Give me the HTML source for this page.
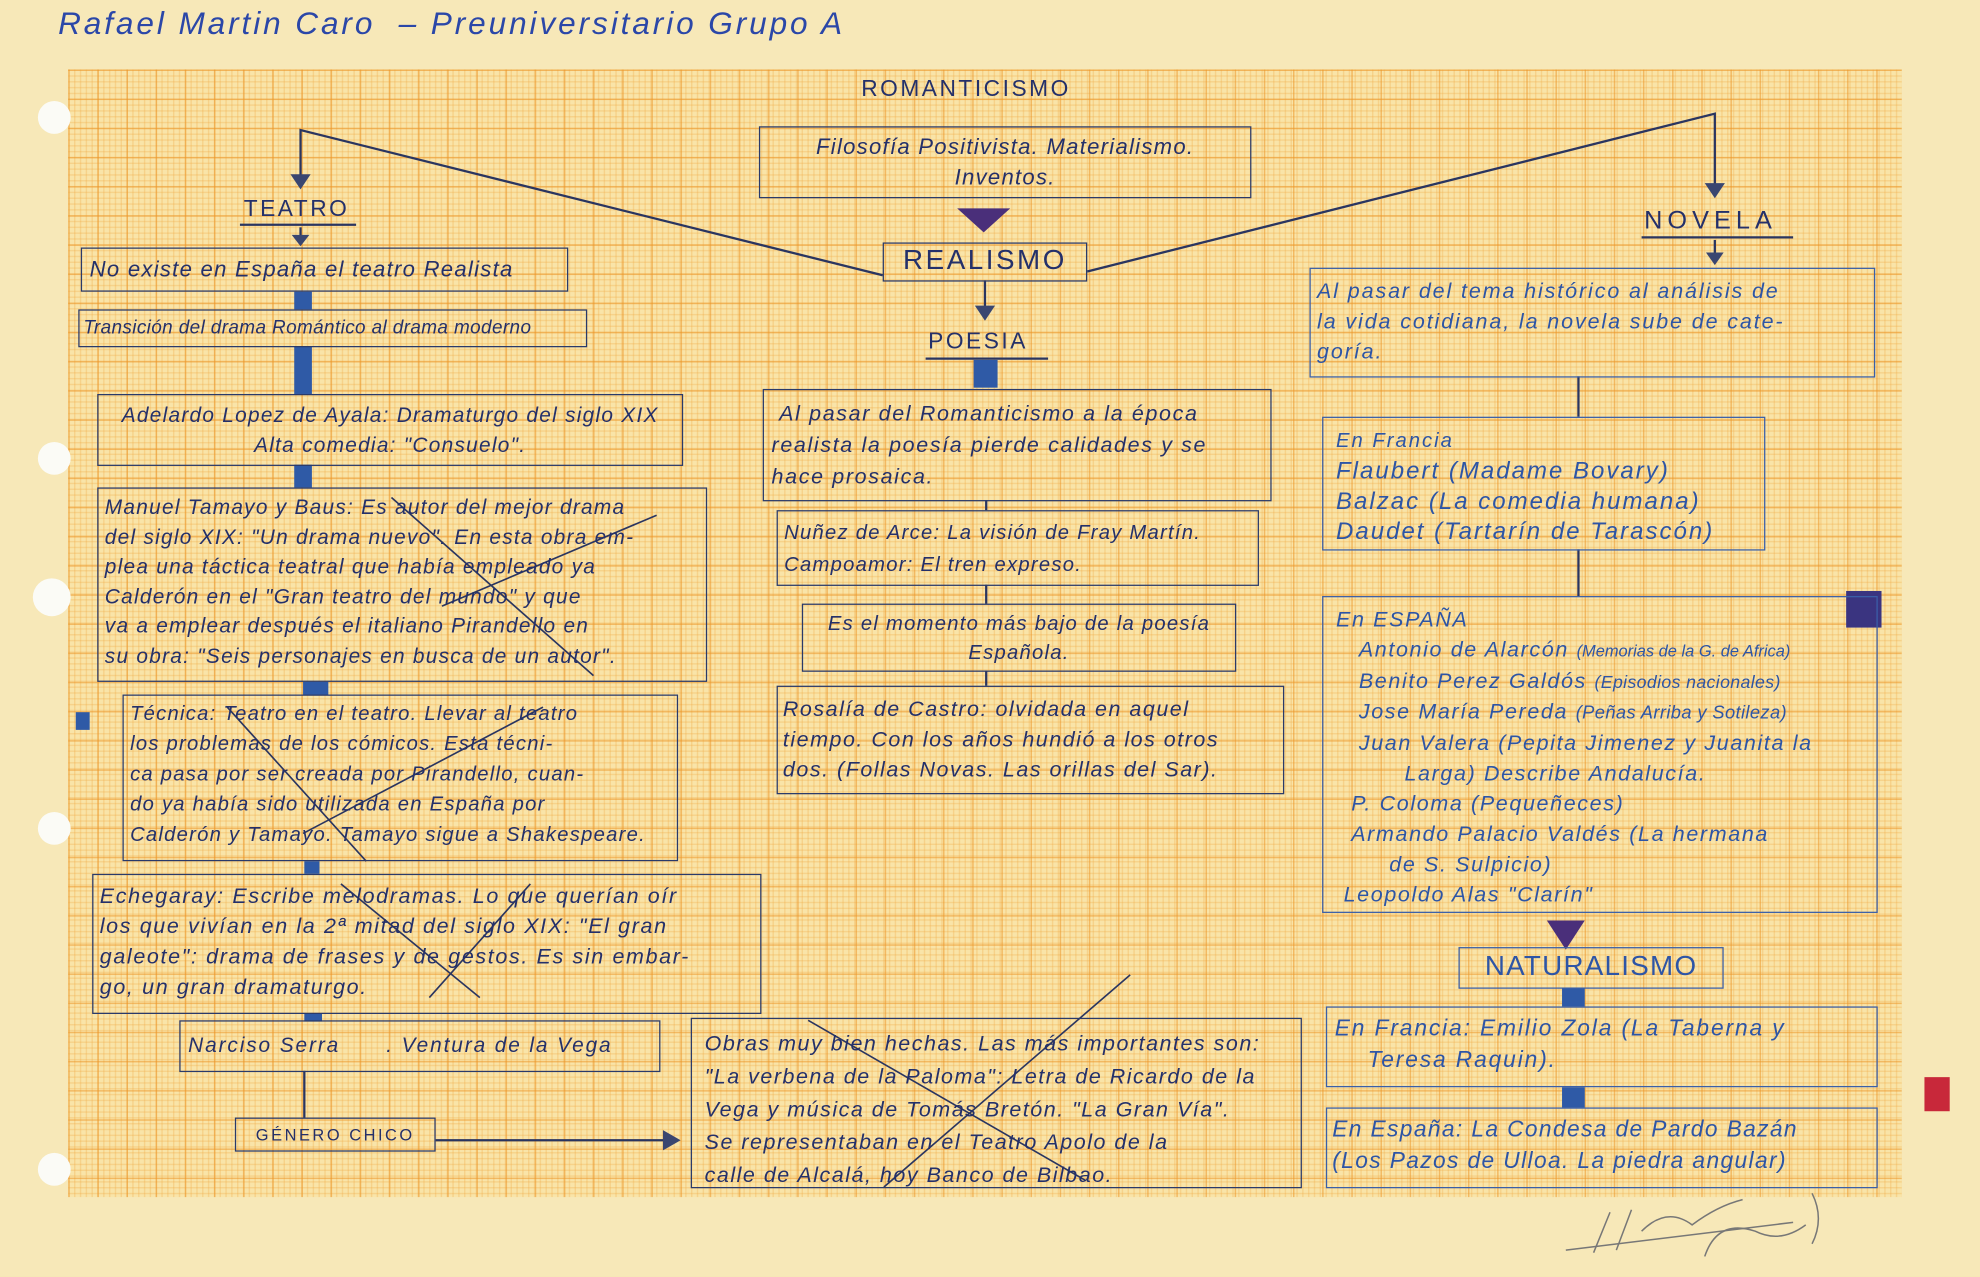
<!DOCTYPE html>
<html><head><meta charset="utf-8"><style>
html,body{margin:0;padding:0;}
body{width:1980px;height:1277px;overflow:hidden;background:#f6e6b4;}
#s{position:absolute;left:0;top:0;width:1568px;height:1011px;transform:scale(1.26276);transform-origin:0 0;background:#f7e8b8;font-family:"Liberation Sans",sans-serif;font-style:italic;color:#24306a;}
#g{position:absolute;left:54px;top:55px;width:1452px;height:893px;background-color:#f9e4a8;
background-image:
linear-gradient(to right,rgba(236,150,40,.55) 1px,transparent 1px),
linear-gradient(to bottom,rgba(236,150,40,.55) 1px,transparent 1px),
linear-gradient(to right,rgba(240,170,70,.3) 1px,transparent 1px),
linear-gradient(to bottom,rgba(240,170,70,.3) 1px,transparent 1px);
background-size:23.1px 23.1px,23.1px 23.1px,4.62px 4.62px,4.62px 4.62px;}
.b{position:absolute;border:1.6px solid #2a3a6a;box-sizing:border-box;font-size:16.5px;line-height:22px;padding:2px 6px;white-space:nowrap;letter-spacing:1px;}
.bl{border-color:#3a5fa8;color:#2d55a6;}
.t{position:absolute;font-size:18px;letter-spacing:2px;font-style:normal;}
.hole{position:absolute;width:26px;height:26px;border-radius:50%;background:#fbfbf6;}
</style></head><body><div id="s">
<div id="g"></div>
<div class="hole" style="left:30px;top:80px"></div>
<div class="hole" style="left:30px;top:350px"></div>
<div class="hole" style="left:26px;top:458px;width:30px;height:30px"></div>
<div class="hole" style="left:30px;top:643px"></div>
<div class="hole" style="left:30px;top:913px"></div>
<div style="position:absolute;left:46px;top:5px;font-size:25px;color:#2b47a8;letter-spacing:2.3px">Rafael Martin Caro &nbsp;– Preuniversitario Grupo A</div>

<svg style="position:absolute;left:0;top:0" width="1568" height="1011">
<g stroke="#2a3560" stroke-width="1.8" fill="none">
<polyline points="699,218 238,103 238,140"/>
<polyline points="861,215 1358,90 1358,148"/>
<line x1="238" y1="180" x2="238" y2="188"/>
<line x1="780" y1="222" x2="780" y2="245"/>
<line x1="1358" y1="190" x2="1358" y2="202"/>
<line x1="241" y1="848" x2="241" y2="885"/>
<line x1="345" y1="903" x2="527" y2="903"/>
<line x1="781" y1="396" x2="781" y2="404"/>
<line x1="781" y1="463" x2="781" y2="478"/>
<line x1="781" y1="531" x2="781" y2="543"/>
<line x1="1250" y1="298" x2="1250" y2="330"/>
<line x1="1250" y1="435" x2="1250" y2="472"/>
<line x1="190" y1="178" x2="282" y2="178"/>
<line x1="733" y1="284" x2="830" y2="284"/>
<line x1="1300" y1="188" x2="1420" y2="188"/>
</g>
<g fill="#3a4670">
<polygon points="230,138 246,138 238,150"/>
<polygon points="1350,145 1366,145 1358,157"/>
<polygon points="231,186 245,186 238,195"/>
<polygon points="772,242 788,242 780,254"/>
<polygon points="1351,200 1365,200 1358,210"/>
<polygon points="525,895 525,911 539,903"/>
</g>
<polygon points="758,165 800,165 779,184" fill="#4a2f7a"/>
<polygon points="1225,729 1255,729 1240,752" fill="#4a2f7a"/>
<g fill="#2f5aa6">
<rect x="233" y="231" width="14" height="14"/><rect x="233" y="274" width="14" height="38"/>
<rect x="233" y="368" width="14" height="18"/><rect x="240" y="540" width="20" height="10"/>
<rect x="241" y="682" width="12" height="10"/><rect x="241" y="803" width="14" height="6"/>
<rect x="771" y="285" width="19" height="22"/>
<rect x="1237" y="782" width="18" height="15"/><rect x="1237" y="861" width="18" height="16"/>
<rect x="60" y="564" width="11" height="14"/>
</g>
<rect x="1462" y="468" width="28" height="29" fill="#3a3480"/>
<rect x="1524" y="853" width="20" height="27" fill="#c8283a"/>
<g stroke="#2a3560" stroke-width="1.3" fill="none">
<path d="M310 394 L470 535"/><path d="M350 480 L520 408"/>
<path d="M180 560 L290 682"/><path d="M430 560 L240 660"/>
<path d="M270 700 L380 790"/><path d="M420 700 L340 790"/>
<path d="M640 808 L860 935"/><path d="M895 772 L700 940"/>
</g>
<g stroke="#777" stroke-width="1.2" fill="none">
<path d="M1240 990 L1420 968"/><path d="M1262 992 L1275 960 M1280 990 L1292 958"/>
<path d="M1300 975 q20 -20 40 -5 q20 -15 40 -20 M1350 995 q10 -30 40 -20 q20 10 40 -5 M1435 945 q10 20 0 40"/>
</g>
</svg>

<div class="t" style="left:682px;top:60px">ROMANTICISMO</div>
<div class="b" style="left:601px;top:100px;width:390px;height:57px;text-align:center;font-size:17.5px;line-height:24px;padding-top:3px">Filosofía Positivista. Materialismo.<br>Inventos.</div>
<div class="b" style="left:699px;top:192px;width:162px;height:31px;text-align:center;font-style:normal;font-size:22px;letter-spacing:2px;line-height:26px;padding:0">REALISMO</div>
<div class="t" style="left:193px;top:155px">TEATRO</div>
<div class="t" style="left:735px;top:260px">POESIA</div>
<div class="t" style="left:1302px;top:164px;font-size:20px;letter-spacing:4px">NOVELA</div>

<div class="b" style="left:64px;top:196px;width:386px;height:35px;line-height:28px;font-size:17.5px">No existe en España el teatro Realista</div>
<div class="b" style="left:62px;top:245px;width:403px;height:30px;font-size:15px;line-height:24px;padding:2px 3px;letter-spacing:0.3px">Transición del drama Romántico al drama moderno</div>
<div class="b" style="left:77px;top:312px;width:464px;height:57px;font-size:16.5px;line-height:24px;text-align:center;padding-top:4px">Adelardo Lopez de Ayala: Dramaturgo del siglo XIX<br>Alta comedia: "Consuelo".</div>
<div class="b" style="left:77px;top:386px;width:483px;height:154px;font-size:16.5px;line-height:23.5px;padding:4px 5px">Manuel Tamayo y Baus: Es autor del mejor drama<br>del siglo XIX: "Un drama nuevo". En esta obra em-<br>plea una táctica teatral que había empleado ya<br>Calderón en el "Gran teatro del mundo" y que<br>va a emplear después el italiano Pirandello en<br>su obra: "Seis personajes en busca de un autor".</div>
<div class="b" style="left:97px;top:550px;width:440px;height:132px;font-size:16px;line-height:24px;padding:3px 5px">Técnica: Teatro en el teatro. Llevar al teatro<br>los problemas de los cómicos. Esta técni-<br>ca pasa por ser creada por Pirandello, cuan-<br>do ya había sido utilizada en España por<br>Calderón y Tamayo. Tamayo sigue a Shakespeare.</div>
<div class="b" style="left:73px;top:692px;width:530px;height:111px;font-size:17px;line-height:24px;padding:5px 5px;letter-spacing:1.3px">Echegaray: Escribe melodramas. Lo que querían oír<br>los que vivían en la 2ª mitad del siglo XIX: "El gran<br>galeote": drama de frases y de gestos. Es sin embar-<br>go, un gran dramaturgo.</div>
<div class="b" style="left:142px;top:808px;width:381px;height:41px;font-size:16.5px;line-height:34px;letter-spacing:1.5px">Narciso Serra &nbsp;&nbsp;&nbsp;&nbsp;&nbsp;. Ventura de la Vega</div>
<div class="b" style="left:186px;top:885px;width:159px;height:27px;font-style:normal;font-size:13px;letter-spacing:2px;line-height:21px;text-align:center">GÉNERO CHICO</div>
<div class="b" style="left:547px;top:806px;width:484px;height:135px;font-size:17px;line-height:26px;padding:7px 10px;letter-spacing:1.2px">Obras muy bien hechas. Las más importantes son:<br>"La verbena de la Paloma": Letra de Ricardo de la<br>Vega y música de Tomás Bretón. "La Gran Vía".<br>Se representaban en el Teatro Apolo de la<br>calle de Alcalá, hoy Banco de Bilbao.</div>

<div class="b" style="left:604px;top:308px;width:403px;height:89px;font-size:17px;line-height:25px;padding:6px 6px;letter-spacing:1.3px">&nbsp;Al pasar del Romanticismo a la época<br>realista la poesía pierde calidades y se<br>hace prosaica.</div>
<div class="b" style="left:615px;top:404px;width:382px;height:60px;font-size:16px;line-height:25px;padding:5px 5px">Nuñez de Arce: La visión de Fray Martín.<br>Campoamor: El tren expreso.</div>
<div class="b" style="left:635px;top:478px;width:344px;height:54px;font-size:16px;line-height:23px;text-align:center;padding-top:4px">Es el momento más bajo de la poesía<br>Española.</div>
<div class="b" style="left:615px;top:543px;width:402px;height:86px;font-size:17px;line-height:24px;padding:6px 4px;letter-spacing:1.2px">Rosalía de Castro: olvidada en aquel<br>tiempo. Con los años hundió a los otros<br>dos. (Follas Novas. Las orillas del Sar).</div>

<div class="b bl" style="left:1037px;top:212px;width:448px;height:87px;font-size:17px;line-height:24px;padding:6px 5px;letter-spacing:1.5px">Al pasar del tema histórico al análisis de<br>la vida cotidiana, la novela sube de cate-<br>goría.</div>
<div class="b bl" style="left:1047px;top:330px;width:351px;height:106px;font-size:19px;line-height:24px;padding:6px 10px;letter-spacing:1.6px"><span style="font-size:16px">En Francia</span><br>Flaubert (Madame Bovary)<br>Balzac (La comedia humana)<br>Daudet (Tartarín de Tarascón)</div>
<div class="b bl" style="left:1047px;top:472px;width:440px;height:251px;font-size:17px;line-height:24px;padding:6px 10px;letter-spacing:1.3px">En ESPAÑA<br>&nbsp;&nbsp;&nbsp;Antonio de Alarcón <span style="font-size:13px;letter-spacing:0">(Memorias de la G. de Africa)</span><br>&nbsp;&nbsp;&nbsp;Benito Perez Galdós <span style="font-size:14px;letter-spacing:0.3px">(Episodios nacionales)</span><br>&nbsp;&nbsp;&nbsp;Jose María Pereda <span style="font-size:14.5px;letter-spacing:0.3px">(Peñas Arriba y Sotileza)</span><br>&nbsp;&nbsp;&nbsp;Juan Valera (Pepita Jimenez y Juanita la<br>&nbsp;&nbsp;&nbsp;&nbsp;&nbsp;&nbsp;&nbsp;&nbsp;&nbsp;Larga) Describe Andalucía.<br>&nbsp;&nbsp;P. Coloma (Pequeñeces)<br>&nbsp;&nbsp;Armando Palacio Valdés (La hermana<br>&nbsp;&nbsp;&nbsp;&nbsp;&nbsp;&nbsp;&nbsp;de S. Sulpicio)<br>&nbsp;Leopoldo Alas "Clarín"</div>
<div class="b bl" style="left:1155px;top:750px;width:210px;height:33px;font-style:normal;font-size:22px;line-height:28px;text-align:center;padding:0;letter-spacing:1px">NATURALISMO</div>
<div class="b bl" style="left:1050px;top:797px;width:437px;height:64px;font-size:18px;line-height:25px;padding:4px 6px;letter-spacing:1.5px">En Francia: Emilio Zola (La Taberna y<br>&nbsp;&nbsp;&nbsp;&nbsp;Teresa Raquin).</div>
<div class="b bl" style="left:1050px;top:877px;width:437px;height:64px;font-size:18px;line-height:25px;padding:4px 4px;letter-spacing:1.1px">En España: La Condesa de Pardo Bazán<br>(Los Pazos de Ulloa. La piedra angular)</div>
</div></body></html>
